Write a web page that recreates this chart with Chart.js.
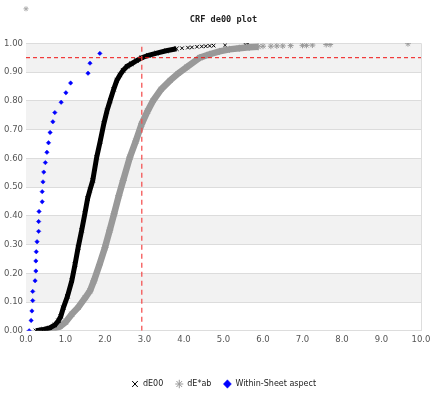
<!DOCTYPE html>
<html><head><meta charset="utf-8">
<script src="https://cdn.jsdelivr.net/npm/chart.js@4"></script>
<style>html,body{margin:0;padding:0;background:#fff}#wrap{width:430px;height:398px;position:relative}</style>
</head><body><div id="wrap"><canvas id="c"></canvas></div>
<script>
// ---- data ----
const xTickValues = [0,1,2,3,4,5,6,7,8,9,10];
const yTickValues = [0,0.1,0.2,0.3,0.4,0.5,0.6,0.7,0.8,0.9,1.0];

// dE00 (dense part of the cumulative curve)
const dE00X = [0.25,0.45,0.60,0.73,0.82,0.88,0.945,1.05,1.16,1.24,1.32,1.41,1.49,1.56,1.62,1.69,1.79,1.88,1.97,2.05,2.13,2.22,2.30,2.38,2.46,2.56,2.67,2.80,2.93,3.10,3.31,3.55,3.81];
const dE00Y = [0.0,0.005,0.01,0.02,0.035,0.05,0.08,0.12,0.174,0.23,0.29,0.35,0.407,0.46,0.49,0.523,0.604,0.66,0.72,0.765,0.801,0.84,0.871,0.89,0.906,0.92,0.929,0.94,0.95,0.958,0.966,0.974,0.981];
// dE00 sparse tail
const dE00TailX = [3.95,4.10,4.20,4.33,4.45,4.55,4.65,4.75,5.04,5.55,5.62];
const dE00TailY = [0.983,0.985,0.986,0.988,0.989,0.990,0.991,0.992,0.993,0.996,0.998];

// dE*ab (dense part)
const dEabX = [0.35,0.60,0.86,1.00,1.16,1.32,1.50,1.62,1.72,1.86,2.00,2.12,2.23,2.35,2.46,2.63,2.78,2.93,3.08,3.22,3.42,3.65,3.85,4.07,4.40,4.65,4.90,5.15,5.40,5.65,5.88];
const dEabY = [0.0,0.005,0.015,0.03,0.058,0.081,0.115,0.139,0.174,0.23,0.29,0.35,0.407,0.47,0.523,0.604,0.66,0.72,0.765,0.801,0.84,0.871,0.895,0.917,0.95,0.962,0.972,0.979,0.983,0.986,0.988];
// dE*ab sparse tail
const dEabTailX = [6.00,6.20,6.35,6.50,6.70,7.00,7.10,7.25,7.60,7.70,9.67];
const dEabTailY = [0.990,0.990,0.991,0.991,0.992,0.993,0.993,0.994,0.996,0.996,0.999];
// stray dE*ab marker drawn above the plot area
const dEabStrayX = [0];
const dEabStrayY = [1.12];

// Within-Sheet aspect
const wsX = [0.08,0.13,0.15,0.17,0.17,0.23,0.25,0.25,0.26,0.28,0.32,0.32,0.33,0.41,0.41,0.43,0.45,0.49,0.53,0.57,0.61,0.68,0.73,0.89,1.01,1.13,1.57,1.62,1.87];
const wsY = [0.0,0.036,0.069,0.105,0.137,0.174,0.208,0.243,0.275,0.31,0.346,0.38,0.415,0.449,0.484,0.518,0.552,0.585,0.621,0.654,0.69,0.727,0.759,0.795,0.828,0.862,0.896,0.931,0.965];

// reference lines
const refY = 0.95;
const refX = 2.93;

const shadedBands = [[0.1,0.2],[0.3,0.4],[0.5,0.6],[0.7,0.8],[0.9,1.0]];

const pts = (xs, ys) => xs.map((x,i)=>({x, y: ys[i]}));

const bandPlugin = {
  id: 'bands',
  beforeDraw(chart){
    const {ctx, chartArea:a, scales:{y}} = chart;
    ctx.save();
    ctx.fillStyle = '#f2f2f2';
    shadedBands.forEach(b=>{
      const t = y.getPixelForValue(b[1]), bt = y.getPixelForValue(b[0]);
      ctx.fillRect(a.left, t, a.right - a.left, bt - t);
    });
    ctx.restore();
  }
};

// draws marks that fall outside the plot area (Chart.js skips them), still positioned via the scales
const strayPlugin = {
  id: 'stray',
  afterDraw(chart){
    const {ctx, scales:{x, y}} = chart;
    ctx.save();
    ctx.strokeStyle = '#aaa';
    ctx.lineWidth = 1;
    dEabStrayX.forEach((v,i)=>{
      Chart.helpers.drawPoint(ctx, {pointStyle:'star', radius:2.5, rotation:0, borderWidth:1},
        x.getPixelForValue(v), y.getPixelForValue(dEabStrayY[i]));
    });
    ctx.restore();
  }
};

const tickFont = {family:'DejaVu Sans', size:8.5};

new Chart(document.getElementById('c'), {
  type: 'scatter',
  data: {
    datasets: [
      {label:'_refH', data: pts([0,10],[refY,refY]), showLine:true, borderColor:'#f01010', borderWidth:1, borderDash:[4,3], pointRadius:0},
      {label:'_refV', data: pts([refX,refX],[0,1]), showLine:true, borderColor:'rgba(245,80,80,0.85)', borderWidth:1.5, borderDash:[5,4], pointRadius:0},
      {label:'dE00', data: pts(dE00X,dE00Y), showLine:true, borderColor:'#000', borderWidth:5, pointStyle:'crossRot', pointRadius:3, pointBorderColor:'#000', pointBackgroundColor:'#000', pointBorderWidth:1},
      {label:'dE*ab', data: pts(dEabX,dEabY), showLine:true, borderColor:'#999', borderWidth:6.5, pointStyle:'star', pointRadius:3.5, pointBorderColor:'#999', pointBackgroundColor:'#999', pointBorderWidth:1},
      {label:'Within-Sheet aspect', data: pts(wsX,wsY), pointStyle:'rectRot', pointRadius:2.2, pointBorderColor:'#0000ff', pointBackgroundColor:'#0000ff', pointBorderWidth:0.5},
      {label:'_dE00tail', data: pts(dE00TailX,dE00TailY), pointStyle:'crossRot', pointRadius:2.5, pointBorderColor:'#000', pointBorderWidth:1},
      {label:'_dEabtail', data: pts(dEabTailX,dEabTailY), pointStyle:'star', pointRadius:3, pointBorderColor:'#999', pointBorderWidth:1}
    ]
  },
  options: {
    animation:false, responsive:true, maintainAspectRatio:false,
    layout:{padding:{left:0,right:9,top:1,bottom:0}},
    plugins:{
      title:{display:true, fullSize:false, text:'CRF de00 plot', color:'#222', font:{family:'DejaVu Sans Mono', size:8.6, weight:'bold'}, padding:{top:14,bottom:18}},
      legend:{position:'bottom', fullSize:false, labels:{usePointStyle:true, pointStyleWidth:8, boxHeight:6, padding:12, color:'#222', font:{family:'DejaVu Sans', size:8},
        filter:(item)=>!item.text.startsWith('_')}},
      tooltip:{enabled:false}
    },
    scales:{
      x:{type:'linear', min:0, max:10,
        afterBuildTicks(s){ s.ticks = xTickValues.map(v=>({value:v})); },
        afterFit(s){ s.paddingRight = 0; s.height += 19; },
        ticks:{callback:v=>Number(v).toFixed(1), color:'#555', font:tickFont, padding:4, maxRotation:0},
        grid:{color:(c)=> c.tick && c.tick.value===10 ? '#ddd' : 'rgba(0,0,0,0)', drawTicks:false},
        border:{color:'#ddd'}
      },
      y:{min:0, max:1,
        afterBuildTicks(s){ s.ticks = yTickValues.map(v=>({value:v})); },
        ticks:{callback:v=>Number(v).toFixed(2), color:'#555', font:tickFont, padding:3},
        grid:{color:'#dcdcdc', drawTicks:false},
        border:{display:false},
        afterFit(s){ s.width = 26; }
      }
    }
  },
  plugins:[bandPlugin, strayPlugin]
});
</script>
</body></html>
